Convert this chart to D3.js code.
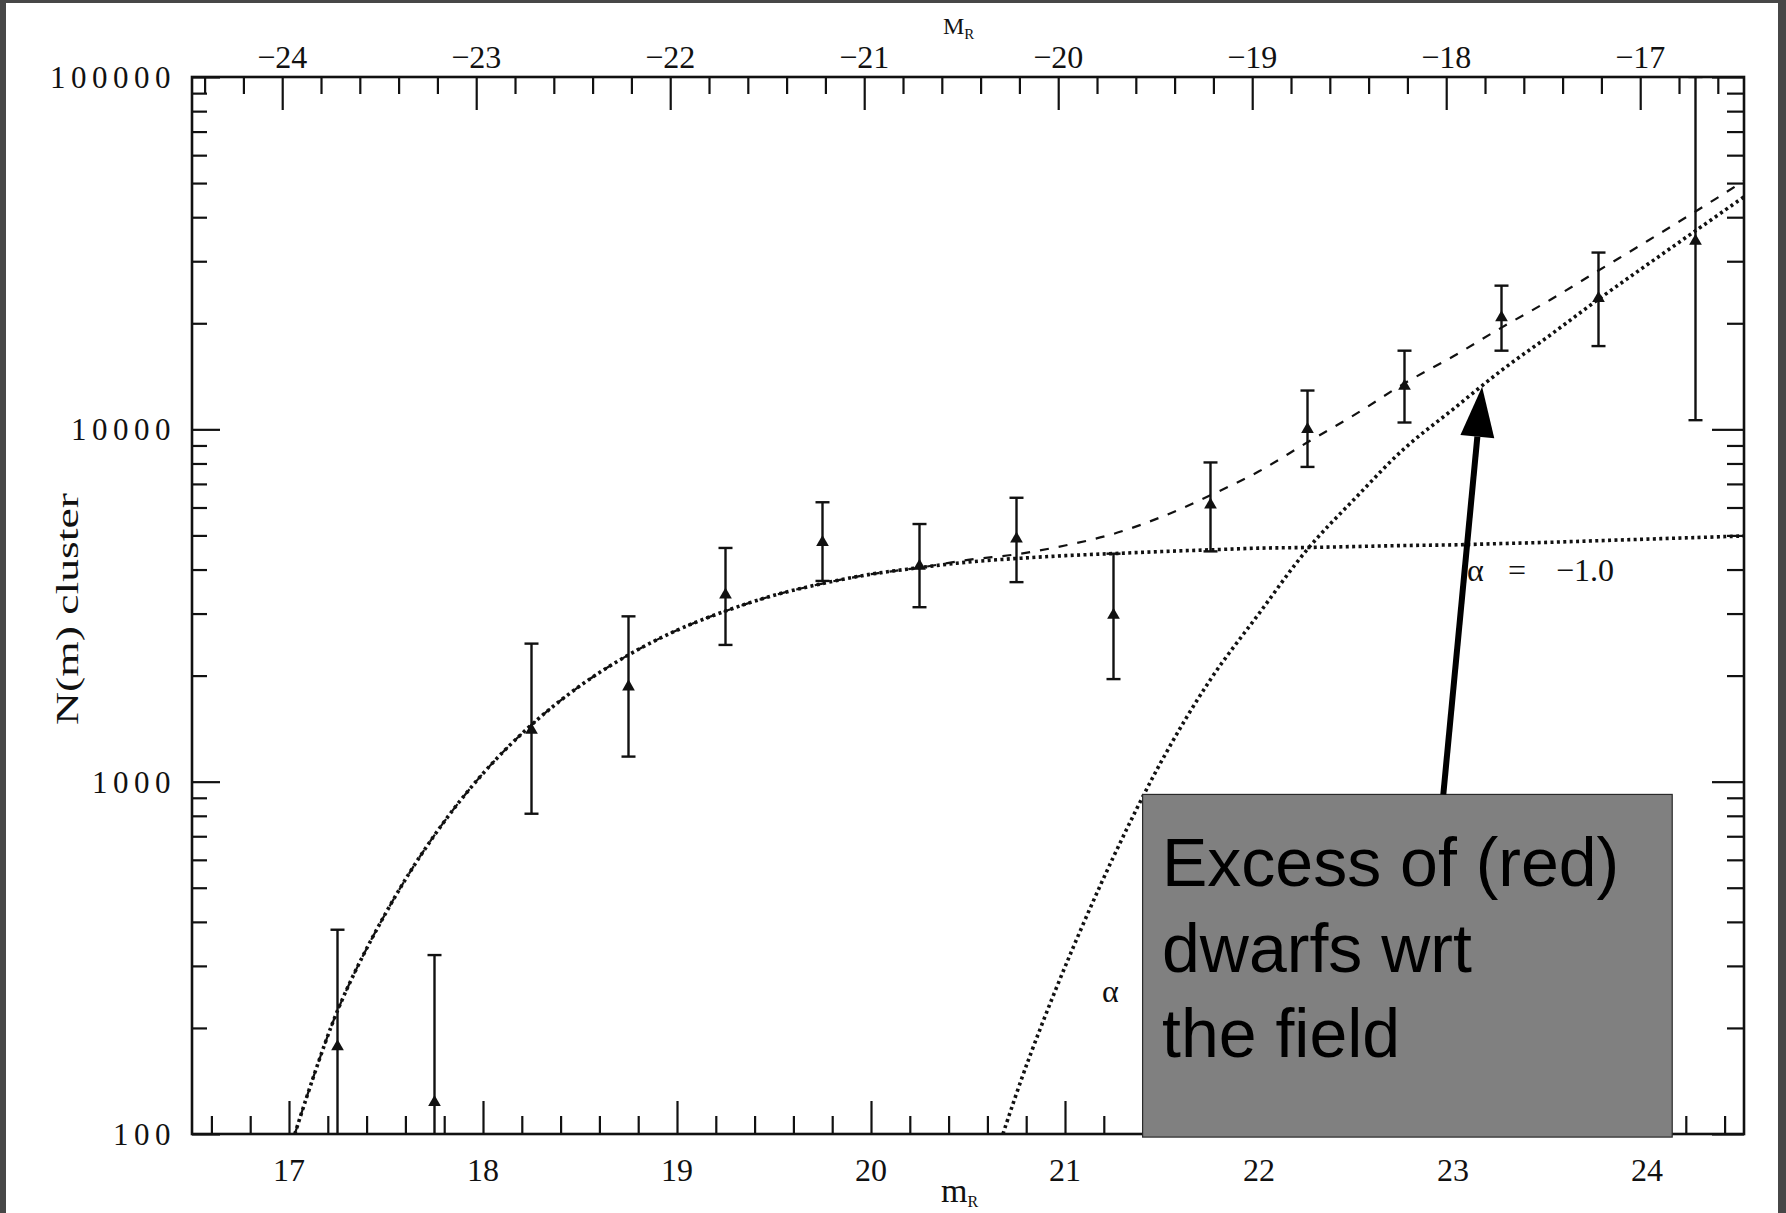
<!DOCTYPE html>
<html>
<head>
<meta charset="utf-8">
<script src="https://cdn.jsdelivr.net/npm/d3@7"></script>
<style>
  html, body { margin: 0; padding: 0; background: #474747; }
  svg { display: block; }
  text { font-family: "Liberation Serif", "DejaVu Serif", serif; fill: #111; }
</style>
</head>
<body>
<svg id="chart" width="1786" height="1213"></svg>
<script>
// ---- binned cluster counts (apparent R magnitude) ----
const binMag   = [17.25, 17.75, 18.25, 18.75, 19.25, 19.75, 20.25, 20.75, 21.25, 21.75, 22.25, 22.75, 23.25, 23.75, 24.25];
const counts   = [177, 123, 1400, 1860, 3390, 4780, 4090, 4890, 2970, 6110, 10000, 13270, 20760, 23550, 34200];
const errHigh  = [380, 322, 2465, 2946, 4606, 6209, 5386, 6394, 4437, 8054, 12886, 16720, 25573, 31749, 100000];
const errLow   = [100, 100, 811, 1178, 2444, 3713, 3127, 3684, 1955, 4504, 7822, 10456, 16720, 17230, 10617];

// ---- fitted luminosity functions ----
const fitMag   = [17.03, 17.25, 17.5, 17.75, 18, 18.25, 18.5, 18.75, 19, 19.25, 19.5, 19.75, 20, 20.25, 20.5, 20.75,
                  21, 21.25, 21.5, 21.75, 22, 22.25, 22.5, 22.75, 23, 23.25, 23.5, 23.75, 24, 24.25, 24.5];
// bright component (alpha = -1.0)
const giantFit = [100, 224, 425, 705, 1055, 1450, 1870, 2290, 2690, 3050, 3380, 3650, 3880, 4050, 4200, 4300,
                  4380, 4440, 4500, 4550, 4600, 4620, 4650, 4680, 4700, 4740, 4780, 4830, 4880, 4930, 4980];
// sum of both components
const totalFit = [100, 224, 425, 705, 1055, 1450, 1870, 2290, 2690, 3050, 3380, 3650, 3880, 4050, 4260, 4420,
                  4680, 5050, 5650, 6500, 7600, 9190, 11060, 13510, 16100, 19440, 23280, 28230, 34180, 41530, 50680];
// faint (dwarf) component
const dwarfMag = [20.68, 20.8, 21.0, 21.25, 21.5, 21.75, 22.0, 22.25, 22.5, 22.75, 23.0, 23.25, 23.5, 23.75, 24.0, 24.25, 24.5];
const dwarfFit = [100, 156, 298, 612, 1150, 1950, 3000, 4570, 6410, 8830, 11400, 14700, 18500, 23400, 29300, 36600, 45700];

// ---- axis ticks ----
const magTicks   = [17, 18, 19, 20, 21, 22, 23, 24];
const absTicks   = [-24, -23, -22, -21, -20, -19, -18, -17];
const countTicks = [100, 1000, 10000, 100000];
const distModulus = 40.965;   // m_R - M_R

// ---- layout ----
const W = 1786, H = 1213;
const L = 192, R = 1744, T = 77, B = 1134;

const svg = d3.select("#chart");

// white page inside the dark frame
svg.append("rect").attr("x", 6).attr("y", 3).attr("width", 1772).attr("height", H - 3).attr("fill", "#fff");

const x = d3.scaleLinear().domain([16.5, 24.5]).range([L, R]);
const xAbs = d3.scaleLinear().domain([16.5 - distModulus, 24.5 - distModulus]).range([L, R]);
const y = d3.scaleLog().domain([100, 100000]).range([B, T]);

svg.append("defs").append("clipPath").attr("id", "plotClip")
  .append("rect").attr("x", L).attr("y", T).attr("width", R - L).attr("height", B - T);

// ---- ticks ----
const minorMag = d3.range(16.6, 24.5, 0.2).map(v => +v.toFixed(1)).filter(v => Math.abs(v - Math.round(v)) > 0.01);
const minorAbs = d3.range(-24.4, -16.0, 0.2).map(v => +v.toFixed(1))
  .filter(v => Math.abs(v - Math.round(v)) > 0.01 && xAbs(v) > L + 2 && xAbs(v) < R - 2);
const minorCount = [];
[100, 1000, 10000].forEach(d => { for (let k = 2; k <= 9; k++) minorCount.push(d * k); });

function styleAxis(g) {
  g.select(".domain").remove();
  g.selectAll("line").attr("stroke", "#111").attr("stroke-width", 2.2);
  g.selectAll("text").remove();
}

// bottom
svg.append("g").attr("transform", `translate(0,${B})`)
  .call(d3.axisBottom(x).tickValues(magTicks).tickSizeInner(-33).tickSizeOuter(0)).call(styleAxis);
svg.append("g").attr("transform", `translate(0,${B})`)
  .call(d3.axisBottom(x).tickValues(minorMag).tickSizeInner(-18).tickSizeOuter(0)).call(styleAxis);
// top
svg.append("g").attr("transform", `translate(0,${T})`)
  .call(d3.axisTop(xAbs).tickValues(absTicks).tickSizeInner(-33).tickSizeOuter(0)).call(styleAxis);
svg.append("g").attr("transform", `translate(0,${T})`)
  .call(d3.axisTop(xAbs).tickValues(minorAbs).tickSizeInner(-17).tickSizeOuter(0)).call(styleAxis);
// left
svg.append("g").attr("transform", `translate(${L},0)`)
  .call(d3.axisLeft(y).tickValues(countTicks).tickSizeInner(-28).tickSizeOuter(0)).call(styleAxis);
svg.append("g").attr("transform", `translate(${L},0)`)
  .call(d3.axisLeft(y).tickValues(minorCount).tickSizeInner(-15).tickSizeOuter(0)).call(styleAxis);
// right
svg.append("g").attr("transform", `translate(${R},0)`)
  .call(d3.axisRight(y).tickValues(countTicks).tickSizeInner(-32).tickSizeOuter(0)).call(styleAxis);
svg.append("g").attr("transform", `translate(${R},0)`)
  .call(d3.axisRight(y).tickValues(minorCount).tickSizeInner(-17).tickSizeOuter(0)).call(styleAxis);

// frame
svg.append("rect").attr("x", L).attr("y", T).attr("width", R - L).attr("height", B - T)
  .attr("fill", "none").attr("stroke", "#111").attr("stroke-width", 2.6);

// ---- tick labels ----
svg.append("g").selectAll("text").data(magTicks).join("text")
  .attr("x", d => x(d)).attr("y", 1181).attr("text-anchor", "middle")
  .attr("font-size", 32).text(d => d);
svg.append("g").selectAll("text").data(absTicks).join("text")
  .attr("x", d => xAbs(d)).attr("y", 68).attr("text-anchor", "middle")
  .attr("font-size", 32).text(d => "\u2212" + Math.abs(d));
svg.append("g").selectAll("text").data(countTicks).join("text")
  .attr("x", 176).attr("y", d => y(d) + 11).attr("text-anchor", "end")
  .attr("font-size", 31).attr("letter-spacing", 5.5).text(d => d);

// ---- axis titles ----
const topTitle = svg.append("text").attr("x", 943).attr("y", 34).attr("font-size", 24);
topTitle.append("tspan").text("M");
topTitle.append("tspan").attr("font-size", 15).attr("dy", 5).text("R");

const botTitle = svg.append("text").attr("x", 941).attr("y", 1202).attr("font-size", 34);
botTitle.append("tspan").text("m");
botTitle.append("tspan").attr("font-size", 16).attr("dy", 5).text("R");

svg.append("text")
  .attr("transform", "translate(78,609) rotate(-90)")
  .attr("text-anchor", "middle").attr("font-size", 31)
  .attr("textLength", 232).attr("lengthAdjust", "spacingAndGlyphs")
  .text("N(m) cluster");

// ---- curves ----
const plot = svg.append("g").attr("clip-path", "url(#plotClip)");
const line = d3.line().x(d => x(d[0])).y(d => y(d[1])).curve(d3.curveCatmullRom);

plot.append("path").datum(d3.zip(fitMag, giantFit)).attr("d", line)
  .attr("fill", "none").attr("stroke", "#111").attr("stroke-width", 3.6)
  .attr("stroke-dasharray", "3,3.4");
plot.append("path").datum(d3.zip(dwarfMag, dwarfFit)).attr("d", line)
  .attr("fill", "none").attr("stroke", "#111").attr("stroke-width", 3.6)
  .attr("stroke-dasharray", "3,3.4");
plot.append("path").datum(d3.zip(fitMag, totalFit)).attr("d", line)
  .attr("fill", "none").attr("stroke", "#111").attr("stroke-width", 2.2)
  .attr("stroke-dasharray", "9,10");

// ---- data points with error bars ----
const pts = binMag.map((m, i) => ({ m, n: counts[i], hi: errHigh[i], lo: errLow[i] }));
const eb = plot.append("g").attr("stroke", "#111").attr("stroke-width", 2.4);
eb.selectAll("line.bar").data(pts).join("line").attr("class", "bar")
  .attr("x1", d => x(d.m)).attr("x2", d => x(d.m))
  .attr("y1", d => y(d.hi)).attr("y2", d => y(d.lo));
eb.selectAll("line.capHi").data(pts).join("line").attr("class", "capHi")
  .attr("x1", d => x(d.m) - 7).attr("x2", d => x(d.m) + 7)
  .attr("y1", d => y(d.hi)).attr("y2", d => y(d.hi));
eb.selectAll("line.capLo").data(pts.filter(d => d.lo > 100)).join("line").attr("class", "capLo")
  .attr("x1", d => x(d.m) - 7).attr("x2", d => x(d.m) + 7)
  .attr("y1", d => y(d.lo)).attr("y2", d => y(d.lo));
plot.append("g").selectAll("path").data(pts).join("path")
  .attr("d", d3.symbol(d3.symbolTriangle, 70))
  .attr("transform", d => `translate(${x(d.m)},${y(d.n)})`)
  .attr("fill", "#111");

// ---- curve labels ----
const alphaLabel = svg.append("text").attr("y", 581).attr("font-size", 32);
alphaLabel.append("tspan").attr("x", 1467).text("\u03b1");
alphaLabel.append("tspan").attr("x", 1508).text("=");
alphaLabel.append("tspan").attr("x", 1556).text("\u22121.0");
svg.append("text").attr("x", 1102).attr("y", 1002).attr("font-size", 32).text("\u03b1");

// ---- annotation ----
const box = { m0: 21.4, m1: 24.13, nTop: 920, nBot: 98 };
svg.append("rect")
  .attr("x", x(box.m0)).attr("y", y(box.nTop))
  .attr("width", x(box.m1) - x(box.m0)).attr("height", y(box.nBot) - y(box.nTop))
  .attr("fill", "#808080").attr("stroke", "#2a2a2a").attr("stroke-width", 1.2);
const note = svg.append("text")
  .attr("font-size", 68).style("font-family", "'Liberation Sans', Arial, sans-serif").style("fill", "#000");
["Excess of (red)", "dwarfs wrt", "the field"].forEach((s, i) => {
  note.append("tspan").attr("x", 1162).attr("y", 886 + i * 85.5).text(s);
});

// arrow pointing at the dwarf component
const tail = [x(22.95), y(box.nTop)];
const tip = [x(23.15), y(13200)];
const len = Math.hypot(tip[0] - tail[0], tip[1] - tail[1]);
const ux = (tail[0] - tip[0]) / len, uy = (tail[1] - tip[1]) / len;
const headLen = 50, headHalf = 17;
const base = [tip[0] + ux * headLen, tip[1] + uy * headLen];
svg.append("line").attr("x1", tail[0]).attr("y1", tail[1]).attr("x2", base[0]).attr("y2", base[1])
  .attr("stroke", "#000").attr("stroke-width", 6);
svg.append("path")
  .attr("d", `M${tip[0]},${tip[1]} L${base[0] - uy * headHalf},${base[1] + ux * headHalf} L${base[0] + uy * headHalf},${base[1] - ux * headHalf} Z`)
  .attr("fill", "#000");
</script>
</body>
</html>
